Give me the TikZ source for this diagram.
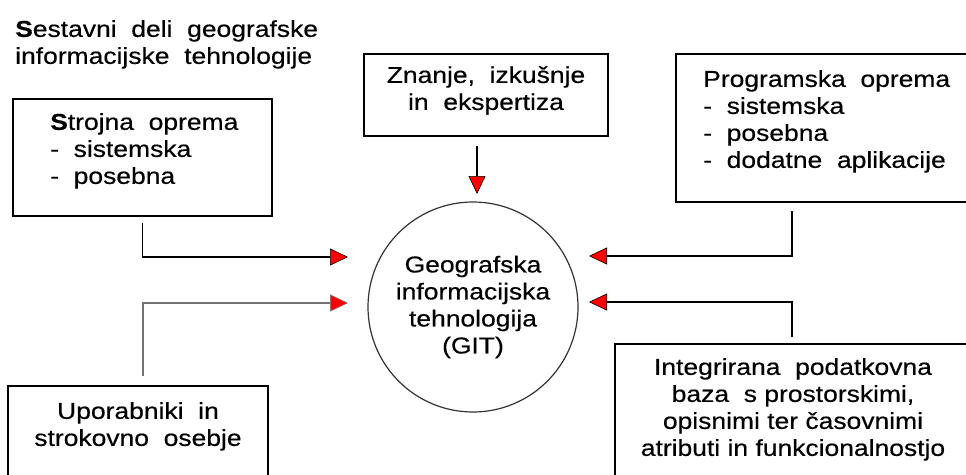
\documentclass[tikz,border=0pt]{standalone}
\usepackage{fontspec}
\setmainfont{Liberation Sans}[FakeStretch=1.15,FakeBold=0.4]
\usetikzlibrary{arrows.meta}

\tikzset{
  box/.style={draw, line width=1.6pt, inner sep=0pt},
  txt/.style={font=\fontsize{23}{27}\selectfont, inner sep=0pt, align=left},
  flow/.style={line width=1.4pt, -{Triangle[length=18pt,width=17pt,fill=red,line width=0.6pt]}},
}

\begin{document}
\begin{tikzpicture}[x=1pt,y=-1pt]
	\useasboundingbox (0,0) rectangle (966,474);
	% title
	\node[txt, anchor=north west] (title) at (15,20) {\textbf{S}estavni~ deli~ geografske\\informacijske~ tehnologije};
	% boxes
	\node[box, minimum width=259pt, minimum height=117pt] (strojna) at (142.5,157.5) {};
	\node[box, minimum width=244pt, minimum height=82pt] (znanje) at (486,95) {};
	\node[box, minimum width=299pt, minimum height=148pt] (prog) at (825.5,128) {};
	\node[box, minimum width=260pt, minimum height=104pt] (upor) at (138,438) {};
	\node[box, minimum width=356pt, minimum height=146pt] (integ) at (793,417) {};
	% texts in boxes
	\node[txt, anchor=north west] (strojna-t) at (50,113) {\textbf{S}trojna~ oprema\\- ~sistemska\\- ~posebna};
	\node[txt, anchor=north, align=center] (znanje-t) at (486,66) {Znanje,~ izkušnje\\in~ ekspertiza};
	\node[txt, anchor=north west] (prog-t) at (703,70) {Programska~ oprema\\- ~sistemska\\- ~posebna\\- ~dodatne~ aplikacije};
	\node[txt, anchor=north, align=center] (upor-t) at (138,402) {Uporabniki~ in\\strokovno~ osebje};
	\node[txt, anchor=north, align=center] (integ-t) at (793,358) {Integrirana~ podatkovna\\baza~ s prostorskimi,\\opisnimi ter časovnimi\\atributi in funkcionalnostjo};
	% centre
	\node[circle, draw=black!80, line width=1.2pt, minimum size=210pt, txt, align=center] (git) at (473,307) {Geografska\\informacijska\\tehnologija\\(GIT)};
	% arrow tips
	\coordinate (tipT) at (477,194);
	\coordinate (tipL1) at (348,257);
	\coordinate (tipL2) at (348,303);
	\coordinate (tipR1) at (589,256);
	\coordinate (tipR2) at (589,302);
	% connectors
	\draw[flow, shorten <=9pt] ([xshift=-9pt]znanje.south) -- (tipT);
	\draw[flow, shorten <=6pt] (strojna.south) |- (tipL1);
	\draw[flow, draw=black!55, shorten <=9pt] ([xshift=5pt]upor.north) |- (tipL2);
	\draw[flow, shorten <=8pt] ([xshift=-33.5pt]prog.south) |- (tipR1);
	\draw[flow, shorten <=6pt] ([xshift=-1pt]integ.north) |- (tipR2);
\end{tikzpicture}
\end{document}
